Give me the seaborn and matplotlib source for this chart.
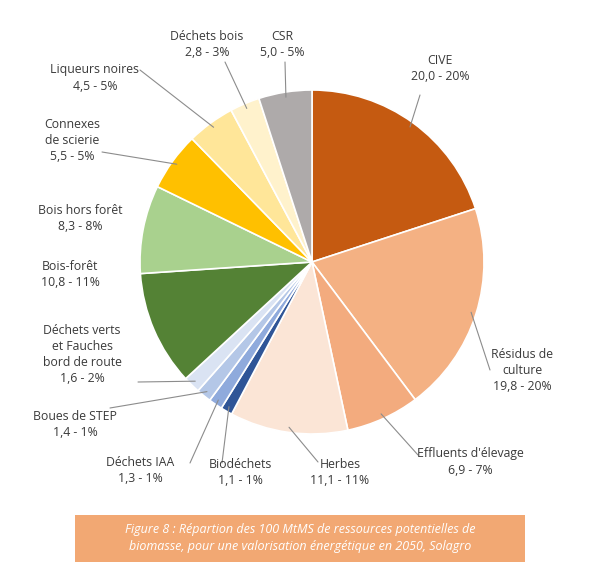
import numpy as np
import matplotlib
matplotlib.use("Agg")
import matplotlib.pyplot as plt
import seaborn as sns

sns.set_theme(style="white")
plt.rcParams['font.family'] = ['Open Sans', 'DejaVu Sans']

labels = ["CIVE", "Résidus de\nculture", "Effluents d'élevage", "Herbes", "Biodéchets",
          "Déchets IAA", "Boues de STEP", "Déchets verts\net Fauches\nbord de route",
          "Bois-forêt", "Bois hors forêt", "Connexes\nde scierie", "Liqueurs noires",
          "Déchets bois", "CSR"]
values = [20.0, 19.8, 6.9, 11.1, 1.1, 1.3, 1.4, 1.6, 10.8, 8.3, 5.5, 4.5, 2.8, 5.0]
pct = [20, 20, 7, 11, 1, 1, 1, 2, 11, 8, 5, 5, 3, 5]
colors = ["#c55a11", "#f4b183", "#f3ab7e", "#fbe5d6", "#2f5597", "#8faadc", "#b4c7e7",
          "#dae3f3", "#548235", "#a9d18e", "#ffc000", "#ffe699", "#fff2cc", "#aeaaaa"]

# text centre (px), line end near text (px)
txt_pos = [(440, 68), (522, 370), (470, 462), (340, 472), (240, 472), (140, 470),
           (75, 425), (82, 355), (70, 275), (80, 218), (72, 140), (95, 78),
           (207, 45), (282, 45)]
line_end = [(420, 95), (490, 370), (418, 455), (318, 462), (222, 463), (190, 463),
            (110, 408), (138, 382), None, None, (102, 152), (140, 70), (225, 62), (285, 62)]

W, H = 595, 576
fig = plt.figure(figsize=(W / 100, H / 100), dpi=100)
ax = fig.add_axes([0, 0, 1, 1])

cx, cy, r = 312, H - 262, 172
wedges, _ = ax.pie(values, colors=colors, startangle=90, counterclock=False,
                   center=(cx, cy), radius=r, frame=True,
                   wedgeprops=dict(edgecolor="white", linewidth=1.2))
ax.set_xlim(0, W)
ax.set_ylim(0, H)
ax.set_aspect("equal")
ax.axis("off")

for i, w in enumerate(wedges):
    ang = np.deg2rad((w.theta1 + w.theta2) / 2)
    tx, ty = txt_pos[i]
    txt = f"{labels[i]}\n{values[i]:.1f}".replace(".", ",") + f" - {pct[i]}%"
    ax.text(tx, H - ty, txt, ha="center", va="center", fontsize=8.8,
            color="#3a3a3a", linespacing=1.3)
    if line_end[i] is not None:
        ex, ey = line_end[i]
        ax.plot([cx + r * 0.97 * np.cos(ang), ex], [cy + r * 0.97 * np.sin(ang), H - ey],
                color="#8c8c8c", lw=0.8)

ax.add_patch(plt.Rectangle((75, H - 562), 450, 47, color="#f2a873", ec="none"))
ax.text(300, H - 538, "Figure 8 : Répartion des 100 MtMS de ressources potentielles de\n"
        "biomasse, pour une valorisation énergétique en 2050, Solagro",
        ha="center", va="center", color="white", fontsize=9, style="italic",
        linespacing=1.4)

fig.savefig("out.png", dpi=100, facecolor="white")
